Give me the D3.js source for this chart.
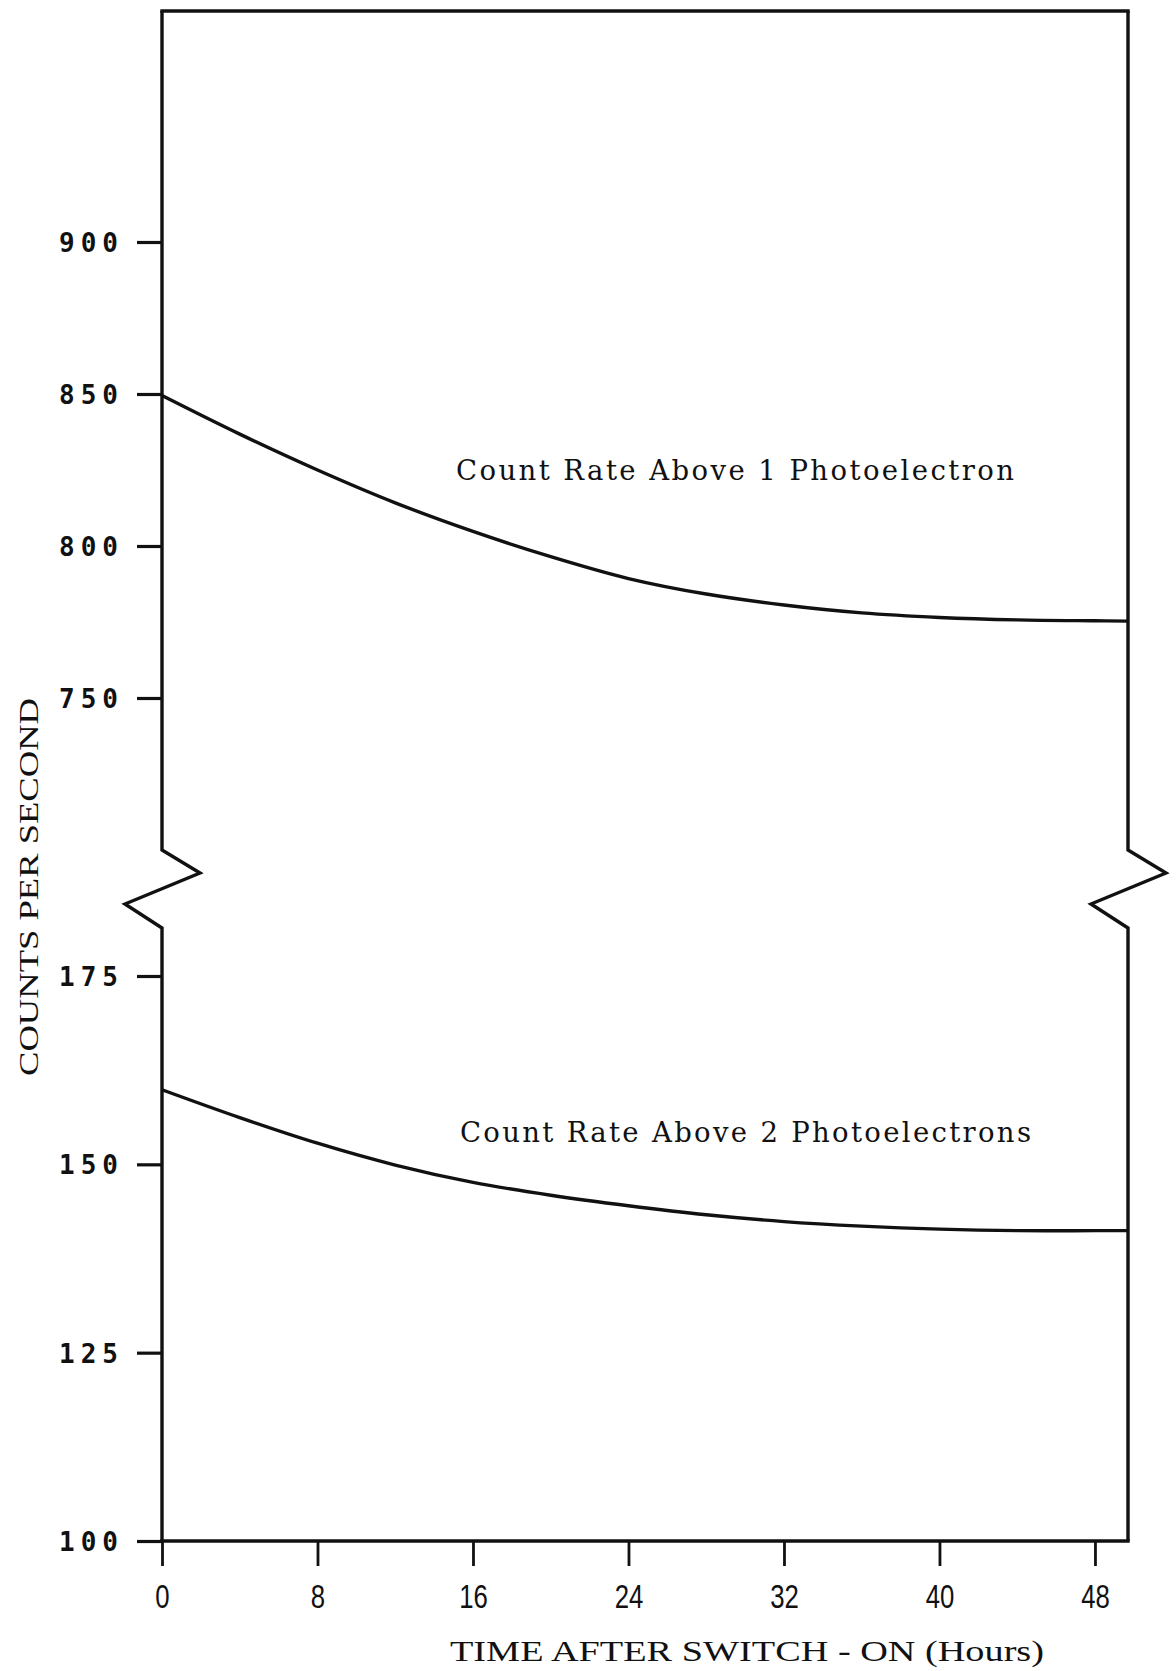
<!DOCTYPE html>
<html>
<head>
<meta charset="utf-8">
<script src="https://cdn.jsdelivr.net/npm/d3@7"></script>
<style>
  html, body { margin: 0; padding: 0; background: #fff; }
  svg { display: block; }
</style>
</head>
<body>
<svg id="chart" width="1176" height="1671"></svg>
<script>
// Time after switch-on (hours) at which the curves were read
const hours = [0, 4, 8, 12, 16, 20, 24, 28, 32, 36, 40, 44, 48, 49.7];

// Count rate above 1 photoelectron (counts per second)
const rateAbove1 = [849.5, 836.8, 825.0, 814.2, 804.8, 796.5, 789.3, 784.2, 780.6, 778.0, 776.5, 775.7, 775.4, 775.3];

// Count rate above 2 photoelectrons (counts per second)
const rateAbove2 = [159.9, 156.2, 152.8, 149.9, 147.6, 145.9, 144.5, 143.3, 142.4, 141.8, 141.4, 141.2, 141.2, 141.2];

// Axis ticks
const xTicks = [0, 8, 16, 24, 32, 40, 48];
const upperTicks = [750, 800, 850, 900];
const lowerTicks = [100, 125, 150, 175];

// Curve labels
const seriesLabels = ["Count Rate Above 1 Photoelectron", "Count Rate Above 2 Photoelectrons"];
const xTitle = "TIME AFTER SWITCH - ON (Hours)";
const yTitle = "COUNTS PER SECOND";

const svg = d3.select("#chart");
const INK = "#111";

// Scales: one shared time axis, two value segments separated by a break
const x = d3.scaleLinear().domain([0, 49.7]).range([162, 1128]);
const yUpper = d3.scaleLinear().domain([700, 900]).range([850, 242]);
const yLower = d3.scaleLinear().domain([100, 175]).range([1541, 976]);

const frameTop = 11;
const breakUpper = yUpper(700);        // end of upper axis segment
const breakLower = 928;                // start of lower axis segment
const bottom = yLower(100);

// Frame with axis breaks on both sides
function sideWithBreak(x0) {
  return [
    [x0, frameTop], [x0, breakUpper],
    [x0 + 38, breakUpper + 23], [x0 - 37, breakUpper + 54],
    [x0, breakLower], [x0, bottom]
  ];
}
const lineGen = d3.line();
[x(0), x(49.7)].forEach(x0 => {
  svg.append("path")
    .attr("d", lineGen(sideWithBreak(x0)))
    .attr("fill", "none").attr("stroke", INK).attr("stroke-width", 3.4)
    .attr("stroke-linejoin", "miter");
});
[frameTop, bottom].forEach(y0 => {
  svg.append("line")
    .attr("x1", x(0) - 1.7).attr("x2", x(49.7) + 1.7)
    .attr("y1", y0).attr("y2", y0)
    .attr("stroke", INK).attr("stroke-width", 3.6);
});

// Y axes (upper and lower segments)
function styleYAxis(g) {
  g.select(".domain").remove();
  g.selectAll(".tick line").attr("stroke", INK).attr("stroke-width", 3.2);
  g.selectAll(".tick text")
    .attr("fill", INK)
    .attr("x", -38)
    .attr("dy", "0.37em")
    .style("font-family", "'DejaVu Sans Mono', 'Liberation Mono', monospace")
    .style("font-size", "26px")
    .style("font-weight", "bold")
    .style("letter-spacing", "6px");
}
svg.append("g")
  .attr("transform", `translate(${x(0)},0)`)
  .call(d3.axisLeft(yUpper).tickValues(upperTicks).tickSize(25).tickSizeOuter(0))
  .call(styleYAxis);
svg.append("g")
  .attr("transform", `translate(${x(0)},0)`)
  .call(d3.axisLeft(yLower).tickValues(lowerTicks).tickSize(25).tickSizeOuter(0))
  .call(styleYAxis);

// X axis ticks hang below the baseline
const xAxis = svg.append("g")
  .attr("transform", `translate(0,${bottom})`)
  .call(d3.axisBottom(x).tickValues(xTicks).tickSize(25).tickSizeOuter(0));
xAxis.select(".domain").remove();
xAxis.selectAll(".tick line").attr("stroke", INK).attr("stroke-width", 2.8);
xAxis.selectAll(".tick text")
  .attr("fill", INK)
  .attr("y", 67)
  .attr("dy", 0)
  .attr("transform", "scale(0.78,1)")
  .style("font-family", "'Liberation Sans', Arial, sans-serif")
  .style("font-size", "33px");

// Curves
const curve = (yScale) => d3.line()
  .x((d, i) => x(hours[i]))
  .y(d => yScale(d))
  .curve(d3.curveCatmullRom.alpha(0.5));

svg.append("path")
  .datum(rateAbove1)
  .attr("d", curve(yUpper))
  .attr("fill", "none").attr("stroke", INK).attr("stroke-width", 3.4);
svg.append("path")
  .datum(rateAbove2)
  .attr("d", curve(yLower))
  .attr("fill", "none").attr("stroke", INK).attr("stroke-width", 3.4);

// Curve labels
const labelFont = "'DejaVu Serif', 'Liberation Serif', serif";
svg.append("text")
  .attr("x", 456).attr("y", 480)
  .attr("textLength", 558).attr("lengthAdjust", "spacing")
  .attr("fill", INK)
  .style("font-family", labelFont).style("font-size", "27.5px")
  .text(seriesLabels[0]);
svg.append("text")
  .attr("x", 460).attr("y", 1142)
  .attr("textLength", 571).attr("lengthAdjust", "spacing")
  .attr("fill", INK)
  .style("font-family", labelFont).style("font-size", "27.5px")
  .text(seriesLabels[1]);

// Axis titles
svg.append("text")
  .attr("x", 450).attr("y", 1661)
  .attr("textLength", 594).attr("lengthAdjust", "spacingAndGlyphs")
  .attr("fill", INK)
  .style("font-family", "'Liberation Serif', 'Times New Roman', serif")
  .style("font-size", "29px")
  .text(xTitle);
svg.append("text")
  .attr("transform", "translate(38,1076) rotate(-90)")
  .attr("x", 0).attr("y", 0)
  .attr("textLength", 378).attr("lengthAdjust", "spacingAndGlyphs")
  .attr("fill", INK)
  .style("font-family", "'Liberation Serif', 'Times New Roman', serif")
  .style("font-size", "28px")
  .text(yTitle);
</script>
</body>
</html>
